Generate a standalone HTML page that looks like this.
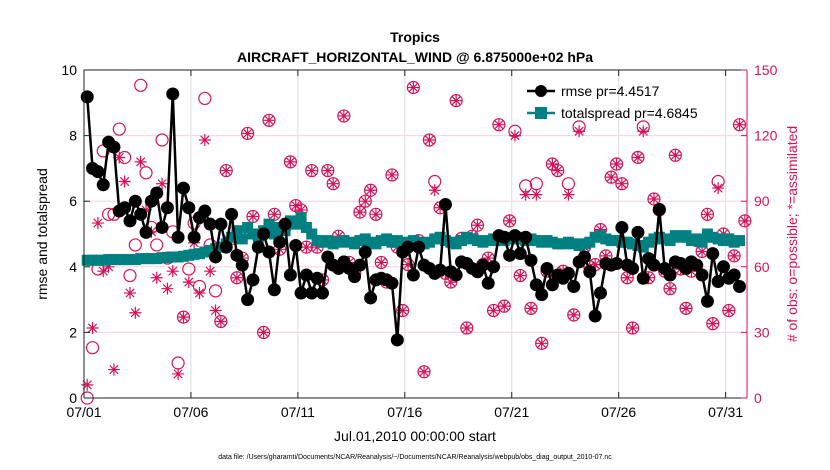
<!DOCTYPE html>
<html><head><meta charset="utf-8">
<style>
html,body{margin:0;padding:0;background:#fff;}
svg{display:block;font-family:"Liberation Sans",Arial,sans-serif;}
</style></head>
<body>
<svg id="chart" width="830" height="470" viewBox="0 0 830 470">
  <rect width="830" height="470" fill="#fff"/>
  <text x="415" y="42" text-anchor="middle" font-size="14" font-weight="bold">Tropics</text>
  <text x="415" y="62" text-anchor="middle" font-size="14" font-weight="bold">AIRCRAFT_HORIZONTAL_WIND @ 6.875000e+02 hPa</text>
  <g id="grid"></g>
  <g id="marks"></g>
  <g id="axes"></g>
  <text x="0" y="0" transform="translate(47,234) rotate(-90)" text-anchor="middle" font-size="14">rmse and totalspread</text>
  <text x="0" y="0" transform="translate(797,234) rotate(-90)" text-anchor="middle" font-size="14" fill="#d6135a"># of obs: o=possible; *=assimilated</text>
  <text x="415" y="441" text-anchor="middle" font-size="14">Jul.01,2010 00:00:00 start</text>
  <text x="415" y="459" text-anchor="middle" font-size="7">data file: /Users/gharamti/Documents/NCAR/Reanalysis/~/Documents/NCAR/Reanalysis/webpub/obs_diag_output_2010-07.nc</text>
  <g id="legend">
    <line x1="527" y1="91" x2="555" y2="91" stroke="#000" stroke-width="2.5"/>
    <circle cx="541" cy="91" r="6" fill="#000"/>
    <text x="561" y="96" font-size="14">rmse pr=4.4517</text>
    <line x1="527" y1="113" x2="555" y2="113" stroke="#008080" stroke-width="2.5"/>
    <rect x="535" y="107" width="12" height="12" fill="#008080"/>
    <text x="561" y="118" font-size="14">totalspread pr=4.6845</text>
  </g>
</svg>
<script>
const rmse = [9.18,7.0,6.9,6.5,7.8,7.65,5.7,5.8,5.4,6.0,5.6,5.05,6.0,6.25,5.2,5.8,9.27,4.9,6.4,5.8,4.9,5.5,5.7,5.3,4.3,5.3,4.6,5.6,4.35,4.05,3.0,3.6,4.6,5.0,4.45,3.3,4.75,5.3,3.75,4.65,3.2,
3.75,3.2,3.65,3.2,4.3,4.05,3.95,4.15,3.95,3.7,4.05,4.45,3.05,3.6,3.65,3.6,3.5,1.77,4.45,4.6,3.75,4.6,4.05,3.95,3.8,3.9,5.9,3.85,3.75,4.15,4.1,3.95,3.85,4.05,3.5,4.0,4.95,4.9,4.35,4.95,
4.4,4.9,4.2,3.45,3.15,3.95,3.45,3.75,3.65,3.8,3.4,4.15,4.3,3.85,2.5,3.2,4.1,4.05,4.1,5.2,4.05,3.95,5.05,3.65,4.25,4.05,5.75,3.95,3.75,4.15,4.1,3.95,4.15,4.05,3.75,2.95,4.4,3.55,4.0,3.65,3.75,3.4];
const spread = [4.2,4.2,4.2,4.2,4.22,4.22,4.22,4.22,4.22,4.22,4.25,4.25,4.25,4.25,4.28,4.28,
4.3,4.3,4.32,4.35,4.38,4.4,4.45,4.5,4.55,4.6,4.7,4.9,
5.1,4.85,5.2,5.0,4.9,5.1,5.3,5.0,5.2,5.1,5.4,5.3,5.5,5.2,5.0,4.8,
4.75,4.8,4.7,4.75,4.8,4.75,4.7,4.8,4.85,4.75,4.7,4.8,4.85,4.75,4.8,4.7,4.75,4.8,4.75,4.7,4.75,4.85,4.9,4.8,4.75,4.7,4.8,4.9,4.85,4.8,4.75,4.8,4.85,4.8,4.8,4.9,4.85,4.9,4.8,4.85,
4.8,4.75,4.8,4.75,4.7,4.7,4.75,4.7,4.65,4.7,4.75,4.9,4.95,4.85,4.8,4.8,4.75,4.75,4.7,4.65,4.6,4.75,4.85,4.9,4.85,4.8,4.95,4.9,4.95,4.8,4.85,4.75,5.0,4.9,4.85,4.8,4.85,4.75,4.8];
const possible = [0,23,59,113,84,84,123,110,56,70,143,103,78,70,118,64,76,16,37,59,80,51,137,70,49,35,104,73,55,64,121,83,74,30,127,84,68,78,108,88,86,69,104,
69,54,104,98,74,129,62,57,85,90,95,84,62,53,102,69,40,61,142,72,12,118,99,87,57,53,136,73,32,74,79,61,64,40,125,42,81,122,56,97,
41,98,25,58,107,104,58,98,38,124,69,60,61,77,65,101,107,98,55,32,110,124,55,91,86,58,50,111,59,41,58,72,67,84,34,99,75,40,65,125,81];
const assimilated = [6,32,80,58,60,13,110,99,48,39,108,86,76,55,98,50,58,11,37,53,71,48,118,58,40,35,104,73,55,64,121,83,74,30,127,84,68,78,108,88,86,69,104,
69,54,104,98,74,129,62,57,85,90,95,84,62,53,102,69,40,61,142,72,12,118,95,87,57,53,136,73,32,74,79,61,64,40,125,42,81,120,56,93,
41,93,25,58,107,104,58,93,38,122,69,60,61,77,65,101,107,98,55,32,110,122,55,91,86,58,50,111,59,41,58,72,67,84,34,96,75,40,65,125,81];
const xTickLabels = ["07/01","07/06","07/11","07/16","07/21","07/26","07/31"];
const xTickDays = [0,5,10,15,20,25,30];
const yTicks = [0,2,4,6,8,10];
const y2Ticks = [0,30,60,90,120,150];

const NS="http://www.w3.org/2000/svg";
const L=84,R=747,T=70,B=398, DAYS=31, STEP=0.25, T0=0.15;
const xs=d=>L+(d/DAYS)*(R-L);
const ys=v=>B-(v/10)*(B-T);
const y2s=v=>B-(v/150)*(B-T);
const tOf=i=>T0+i*STEP;
function mk(tag,attrs,parent){const e=document.createElementNS(NS,tag);for(const k in attrs)e.setAttribute(k,attrs[k]);parent.appendChild(e);return e;}
const grid=document.getElementById('grid'),marks=document.getElementById('marks'),axes=document.getElementById('axes');
const PINK="#d6135a";
// grid
xTickDays.forEach(d=>{const g=mk('line',{x1:xs(d),x2:xs(d),y1:T,y2:B,stroke:'#dcdcdc','stroke-width':1},grid);

});
y2Ticks.forEach(v=>{if(v===0||v===150)return;const g=mk('line',{x1:L,x2:R,y1:y2s(v),y2:y2s(v),stroke:'#f7d3e1','stroke-width':1},grid);

});
// obs markers
possible.forEach((v,i)=>{const c=mk('circle',{cx:xs(tOf(i)),cy:y2s(v),r:6,fill:'none',stroke:PINK,'stroke-width':1.2},marks);

});
assimilated.forEach((v,i)=>{const x=xs(tOf(i)),y=y2s(v),s=6;
const g=mk('path',{d:`M${x-s} ${y}H${x+s}M${x} ${y-s}V${y+s}M${x-4.2} ${y-4.2}L${x+4.2} ${y+4.2}M${x-4.2} ${y+4.2}L${x+4.2} ${y-4.2}`,stroke:PINK,'stroke-width':1.2,fill:'none'},marks);

});
// spread
const sp=mk('polyline',{points:spread.map((v,i)=>xs(tOf(i))+','+ys(v)).join(' '),fill:'none',stroke:'#008080','stroke-width':2.5},marks);


spread.forEach((v,i)=>{const r=mk('rect',{x:xs(tOf(i))-5.5,y:ys(v)-5.5,width:11,height:11,fill:'#008080'},marks);

});
// rmse
const rl=mk('polyline',{points:rmse.map((v,i)=>xs(tOf(i))+','+ys(v)).join(' '),fill:'none',stroke:'#000','stroke-width':2.5},marks);


rmse.forEach((v,i)=>{const c=mk('circle',{cx:xs(tOf(i)),cy:ys(v),r:6.5,fill:'#000'},marks);

});
// axes frame
const f=mk('path',{d:`M${L} ${B}V${T}H${R}M${L} ${B}H${R}`,stroke:'#222','stroke-width':1,fill:'none'},axes);


const ra=mk('line',{x1:R,x2:R,y1:T,y2:B,stroke:PINK,'stroke-width':1},axes);


xTickDays.forEach((d,k)=>{mk('line',{x1:xs(d),x2:xs(d),y1:B,y2:B-6,stroke:'#222'},axes);mk('line',{x1:xs(d),x2:xs(d),y1:T,y2:T+6,stroke:'#222'},axes);
const t=mk('text',{x:xs(d),y:B+19,'text-anchor':'middle','font-size':14},axes);t.textContent=xTickLabels[k];

});
yTicks.forEach(v=>{mk('line',{x1:L,x2:L+6,y1:ys(v),y2:ys(v),stroke:'#222'},axes);
const t=mk('text',{x:L-7,y:ys(v)+5,'text-anchor':'end','font-size':14},axes);t.textContent=v;

});
y2Ticks.forEach(v=>{mk('line',{x1:R,x2:R-6,y1:y2s(v),y2:y2s(v),stroke:PINK},axes);
const t=mk('text',{x:R+7,y:y2s(v)+5,'text-anchor':'start','font-size':14,fill:PINK},axes);t.textContent=v;

});
</script>
</body></html>
